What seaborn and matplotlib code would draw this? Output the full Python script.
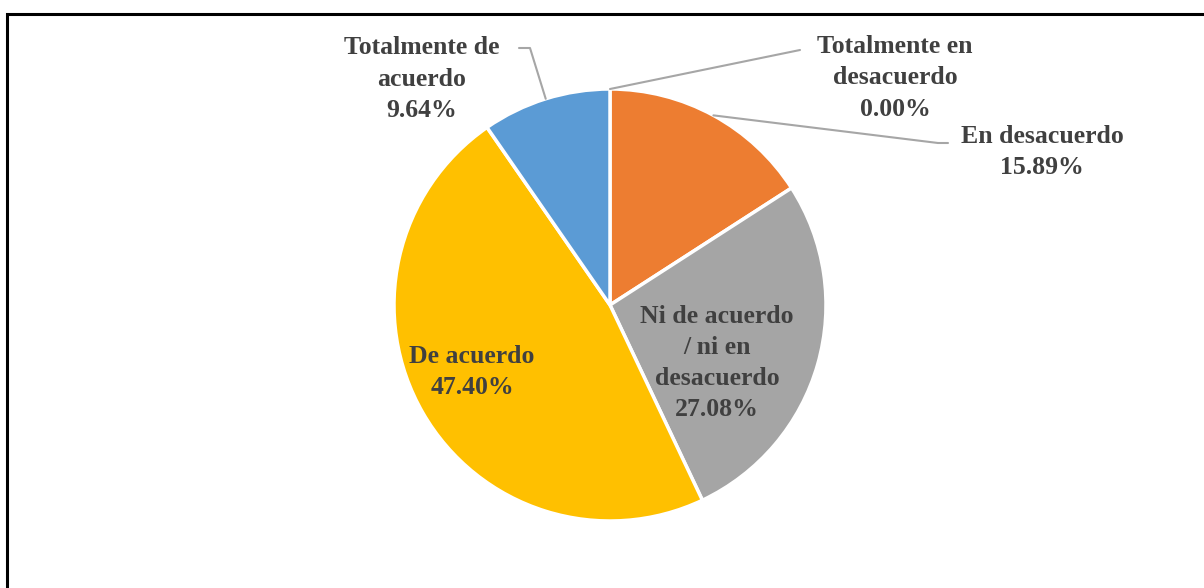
import numpy as np
import seaborn as sns
import matplotlib.pyplot as plt
from matplotlib.patches import Rectangle

# Survey answers (clockwise from 12 o'clock)
categories = ["Totalmente en\ndesacuerdo", "En desacuerdo",
              "Ni de acuerdo\n/ ni en\ndesacuerdo", "De acuerdo",
              "Totalmente de\nacuerdo"]
percentages = [0.00, 15.89, 27.08, 47.40, 9.64]
colors = ["#4472C4", "#ED7D31", "#A5A5A5", "#FFC000", "#5B9BD5"]

sns.set_theme(style="white")
plt.rcParams["font.family"] = ["Liberation Serif", "DejaVu Serif"]
text_color = "#404040"
line_color = "#A6A6A6"

W, H = 1204, 588
fig = plt.figure(figsize=(W / 100, H / 100), dpi=100)
ax = fig.add_axes([0, 0, 1, 1])
ax.set_xlim(0, W)
ax.set_ylim(0, H)
ax.set_aspect("equal")
ax.axis("off")

cx, cy, r = 610, H - 305, 216
wedges, _ = ax.pie(percentages, colors=colors, startangle=90, counterclock=False,
                   center=(cx, cy), radius=r,
                   wedgeprops=dict(edgecolor="white", linewidth=2.5))
ax.set_xlim(0, W)
ax.set_ylim(0, H)

# frame of the chart area (cut off at right and bottom)
ax.add_patch(Rectangle((7, -20), W + 30, H - 14 + 20, fill=False,
                       edgecolor="black", linewidth=2.2))

labels = [f"{c}\n{p:.2f}%" for c, p in zip(categories, percentages)]
txt = dict(ha="center", va="center", fontsize=18.5, fontweight="bold",
           color=text_color, linespacing=1.45)

# mid-angles of the wedges
cum = np.cumsum([0] + percentages)
mids = [90 - 3.6 * (cum[i] + cum[i + 1]) / 2 for i in range(len(percentages))]

def edge_point(i, frac=1.0):
    a = np.deg2rad(mids[i])
    return cx + frac * r * np.cos(a), cy + frac * r * np.sin(a)

# inside labels
ax.text(717, H - 363, labels[2], **txt)
ax.text(472, H - 372, labels[3], **txt)

# outside labels with leader lines
ax.text(895, H - 78, labels[0], **txt)
x0, y0 = edge_point(0)
ax.plot([x0, 800], [y0, H - 50], color=line_color, lw=1.5)

ax.text(1042, H - 152, labels[1], **txt)
x1, y1 = edge_point(1)
ax.plot([x1, 938, 948], [y1, H - 143, H - 143], color=line_color, lw=1.5)

ax.text(422, H - 79, labels[4], **txt)
x4, y4 = edge_point(4)
ax.plot([x4, 530, 519], [y4, H - 48, H - 48], color=line_color, lw=1.5)

fig.savefig("out.png", dpi=100, facecolor="white")
